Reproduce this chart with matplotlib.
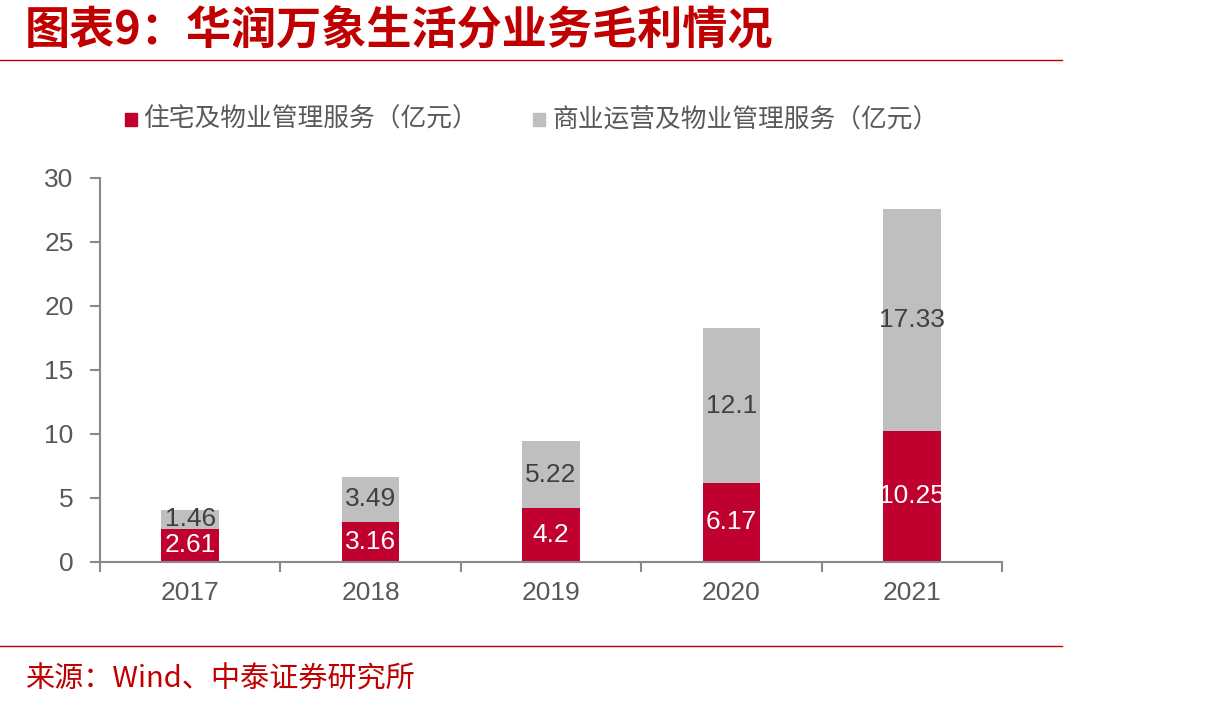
import numpy as np
import matplotlib.pyplot as plt
from matplotlib.lines import Line2D
from matplotlib.patches import Rectangle

plt.rcParams['font.family'] = ['Liberation Sans', 'Noto Sans CJK SC', 'DejaVu Sans']

# data
years = ['2017', '2018', '2019', '2020', '2021']
residential = [2.61, 3.16, 4.2, 6.17, 10.25]
commercial = [1.46, 3.49, 5.22, 12.1, 17.33]
res_labels = ['2.61', '3.16', '4.2', '6.17', '10.25']
com_labels = ['1.46', '3.49', '5.22', '12.1', '17.33']
legend_names = ['住宅及物业管理服务（亿元）', '商业运营及物业管理服务（亿元）']

red = '#C0002F'
grey = '#BFBFBF'
axis_col = '#898989'
text_col = '#595959'

fig = plt.figure(figsize=(12.17, 7.1), dpi=100)
ax = fig.add_axes([0.0822, 0.2085, 0.7411, 0.5408])

x = np.arange(len(years))
w = 0.32
ax.bar(x, residential, w, color=red, zorder=2)
ax.bar(x, commercial, w, bottom=residential, color=grey, zorder=2)

for i in range(len(years)):
    ax.text(x[i], residential[i] / 2, res_labels[i], ha='center', va='center',
            color='white', fontsize=19)
    ax.text(x[i], residential[i] + commercial[i] / 2, com_labels[i], ha='center',
            va='center', color='#404040', fontsize=19)

ax.set_xlim(-0.5, 4.5)
ax.set_ylim(0, 30)
ax.set_yticks([0, 5, 10, 15, 20, 25, 30])
ax.set_xticks(x)
ax.set_xticklabels(years)
ax.set_xticks(np.arange(-0.5, 5, 1), minor=True)
ax.tick_params(axis='x', which='major', length=0, pad=14, labelsize=19, labelcolor=text_col)
ax.tick_params(axis='x', which='minor', length=7, width=1.5, color=axis_col, direction='out')
ax.tick_params(axis='y', length=7, width=1.5, color=axis_col, pad=12, labelsize=19,
               labelcolor=text_col)
for s in ['top', 'right']:
    ax.spines[s].set_visible(False)
for s in ['left', 'bottom']:
    ax.spines[s].set_color(axis_col)
    ax.spines[s].set_linewidth(1.5)

# legend drawn manually
fig.patches.append(Rectangle((125 / 1217, 1 - 126 / 710), 12 / 1217, 13 / 710,
                             transform=fig.transFigure, color=red))
fig.text(143 / 1217, 1 - 120 / 710, legend_names[0], fontsize=18.5, color=text_col,
         va='center', family=['Noto Sans CJK SC'])
fig.patches.append(Rectangle((533 / 1217, 1 - 126 / 710), 12 / 1217, 13 / 710,
                             transform=fig.transFigure, color=grey))
fig.text(552 / 1217, 1 - 120 / 710, legend_names[1], fontsize=18.5, color=text_col,
         va='center', family=['Noto Sans CJK SC'])

# title and source
fig.text(25 / 1217, 1 - 30 / 710, '图表9：华润万象生活分业务毛利情况', fontsize=32.5,
         fontweight='bold', color='#C00000', va='center',
         family=['Noto Sans CJK SC', 'DejaVu Sans'])
fig.lines.append(Line2D([0, 1062 / 1217], [1 - 60 / 710] * 2, transform=fig.transFigure,
                        color='#C00000', lw=1))
fig.lines.append(Line2D([0, 1062 / 1217], [1 - 646 / 710] * 2, transform=fig.transFigure,
                        color='#C00000', lw=1))
fig.text(25 / 1217, 1 - 680 / 710, '来源：Wind、中泰证券研究所', fontsize=21,
         color='#C00000', va='center', family=['Noto Sans CJK SC', 'DejaVu Sans'])

fig.savefig('out.png', dpi=100)
